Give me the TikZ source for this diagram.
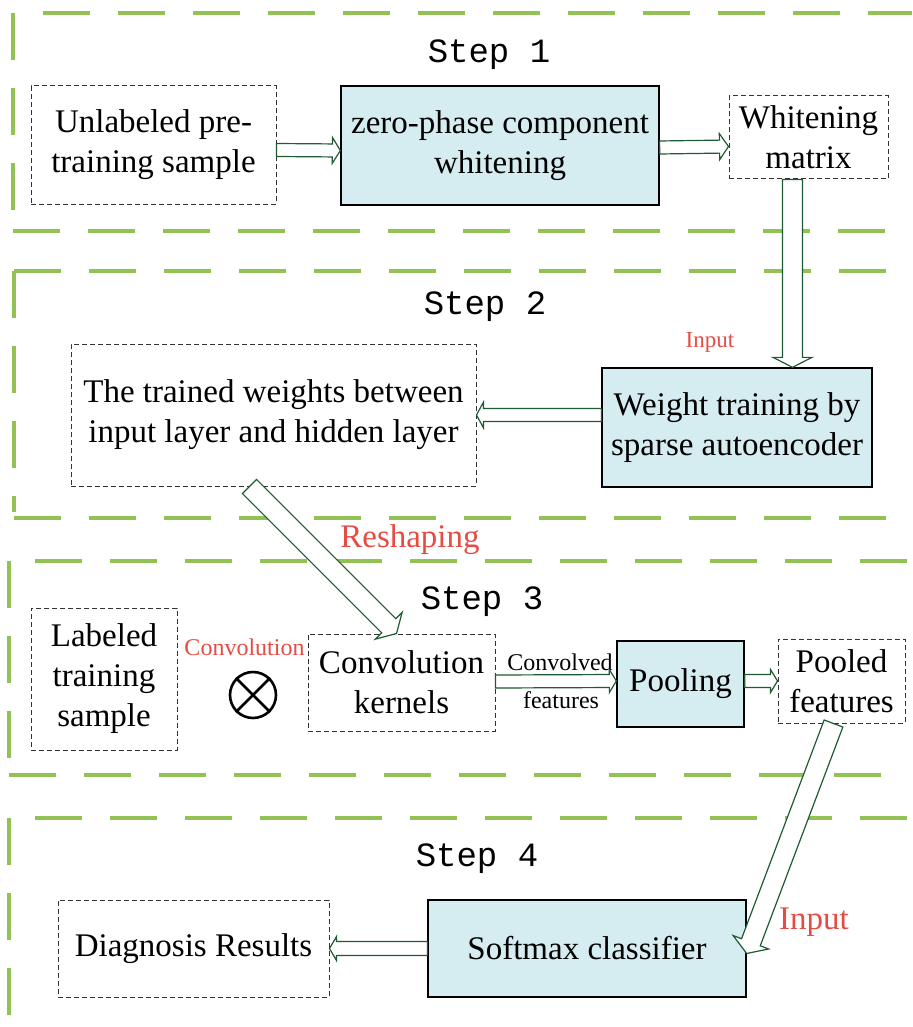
\documentclass[tikz,border=0pt]{standalone}
\usepackage{fontspec}
\setmainfont{Liberation Serif}
\newfontfamily\stepfont{Liberation Mono}
\usetikzlibrary{calc}

\definecolor{lanegreen}{RGB}{146,194,84}
\definecolor{boxblue}{RGB}{213,236,241}
\definecolor{arrgreen}{RGB}{30,90,50}
\definecolor{lblred}{RGB}{228,76,68}

\tikzset{
  every node/.style={font=\fontsize{33}{40}\selectfont, align=center, inner sep=0pt},
  dashbox/.style={draw=black!80, dash pattern=on 5pt off 3pt, line width=1pt},
  bluebox/.style={draw=black, fill=boxblue, line width=1.3pt},
  lane/.style={draw=lanegreen, line width=4pt, dash pattern=on 47pt off 28pt},
  steplbl/.style={font=\stepfont\fontsize{34}{40}\selectfont},
  redlbl/.style={text=lblred},
  arrline/.style={draw=arrgreen, line width=1.2pt, fill=white, line join=miter}
}

% hollow block arrow: shaft half width, head half width, head length, from, to
\newcommand{\fatarrow}[5]{%
  \draw[arrline] let \p1=($(#5)-(#4)$), \n1={atan2(\y1,\x1)}, \n2={veclen(\x1,\y1)} in
    [shift={(#4)}, rotate=\n1]
    (0,-#1) -- ({\n2-#3},-#1) -- ({\n2-#3},-#2) -- (\n2,0) -- ({\n2-#3},#2) -- ({\n2-#3},#1) -- (0,#1) -- cycle;}

\begin{document}
\begin{tikzpicture}[x=1pt, y=-1pt]
\useasboundingbox (0,0) rectangle (912,1027);

% step lanes
\draw[lane] (13,13) -- (13,212);
\draw[lane] (43,13) -- (912,13);
\draw[lane] (13,231) -- (912,231);
\draw[lane] (14,271) -- (14,512);
\draw[lane] (14,271) -- (912,271);
\draw[lane] (14,518) -- (895,518);
\draw[lane] (9,561) -- (9,762);
\draw[lane] (35,561) -- (912,561);
\draw[lane] (9,775) -- (890,775);
\draw[lane] (9,818) -- (9,1027);
\draw[lane] (35,818) -- (912,818);

% step 1
\node[steplbl] (s1) at (489,55) {Step 1};
\node[dashbox, minimum width=245pt, minimum height=118pt] (un) at (153.5,145) {Unlabeled pre-\\training sample};
\node[bluebox, minimum width=318pt, minimum height=119pt] (zp) at (500,145.5) {zero-phase component\\whitening};
\node[dashbox, minimum width=159pt, minimum height=83pt] (wm) at (808.5,137.5) {Whitening\\matrix};

% step 2
\node[steplbl] (s2) at (485,307) {Step 2};
\node[bluebox, minimum width=270pt, minimum height=119pt] (wt) at (737,427.5) {Weight training by\\sparse autoencoder};
\node[dashbox, minimum width=405pt, minimum height=142pt] (tw) at (273.5,415) {The trained weights between\\input layer and hidden layer};
\node[redlbl, font=\fontsize{23}{28}\selectfont] (in1) at (710,342) {Input};
\node[redlbl] (rs) at (410,540) {Reshaping};

% step 3
\node[steplbl] (s3) at (482,602) {Step 3};
\node[dashbox, minimum width=146pt, minimum height=142pt] (lt) at (104,679) {Labeled\\training\\sample};
\node[redlbl, font=\fontsize{24}{28}\selectfont] (cv) at (244.5,647) {Convolution};
\node[circle, draw, line width=2.6pt, minimum size=46pt] (ot) at (253,695) {};
\draw[line width=2.6pt] (ot.north west) -- (ot.south east) (ot.north east) -- (ot.south west);
\node[dashbox, minimum width=187pt, minimum height=97pt] (ck) at (401.5,682.5) {Convolution\\kernels};
\node[bluebox, minimum width=127pt, minimum height=86pt] (pl) at (680.5,684) {Pooling};
\node[dashbox, minimum width=127pt, minimum height=84pt] (pf) at (841.5,681) {Pooled\\features};
\node[font=\fontsize{24}{28}\selectfont] (cvd) at (560,662) {Convolved};
\node[font=\fontsize{24}{28}\selectfont] (cvf) at (561,700) {features};

% step 4
\node[steplbl] (s4) at (477,859) {Step 4};
\node[bluebox, minimum width=318pt, minimum height=97pt] (sm) at (587,948.5) {Softmax classifier};
\node[dashbox, minimum width=271pt, minimum height=97pt] (dr) at (193.5,948.5) {Diagnosis Results};
\node[redlbl] (in2) at (814,922) {Input};

% arrows
\fatarrow{6.5}{13}{8}{$(un.east)+(0,5)$}{$(zp.west)+(0,5)$}
\fatarrow{6.5}{13}{9}{$(zp.east)+(0,2)$}{$(wm.west)+(0,9)$}
\fatarrow{10}{19.5}{10}{$(wm.south)+(-16,0)$}{$(wt.north)+(55.5,0)$}
\fatarrow{6.5}{13}{7}{wt.west |- tw.east}{tw.east}
\fatarrow{10}{19}{11}{$(tw.south)+(-24,0)$}{$(ck.north)+(-5,0)$}
\fatarrow{6.5}{11.5}{7}{$(ck.east)+(0,-1)$}{$(pl.west)+(0,-3)$}
\fatarrow{6.5}{11.5}{7}{$(pl.east)+(0,-3)$}{$(pf.west)+(0,0)$}
\fatarrow{10}{19}{12}{$(pf.south)+(-8,0)$}{$(sm.east)+(0,5)$}
\fatarrow{7}{12}{7}{sm.west}{dr.east}
\end{tikzpicture}
\end{document}
